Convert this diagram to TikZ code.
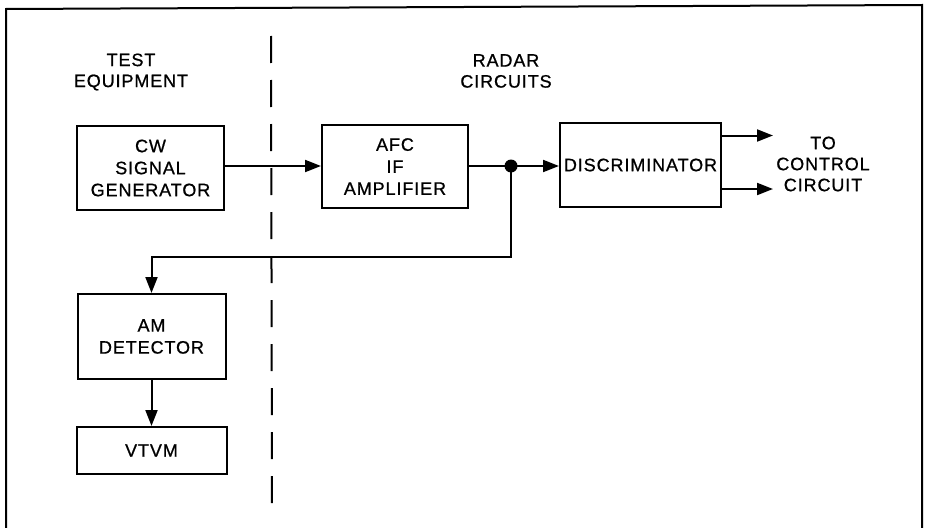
\documentclass[tikz,border=0pt]{standalone}
\usepackage{fontspec}
\setmainfont{Liberation Sans}[LetterSpace=5, FakeBold=0.8]
\usetikzlibrary{arrows.meta}
\tikzset{
  blk/.style={draw, line width=2pt, align=center, inner sep=0pt,
    font=\fontsize{18}{22}\selectfont},
  lbl/.style={align=center, font=\fontsize{18}{21}\selectfont},
  wire/.style={line width=2pt},
  arr/.style={wire, -{Triangle[length=16pt,width=12pt]}},
}
\begin{document}
\begin{tikzpicture}[x=1pt,y=-1pt]
\useasboundingbox (0,0) rectangle (928,527);
\fill[white] (0,0) rectangle (928,527);
% frame
\draw[line width=2pt] (6,540) -- (6,9) -- (922,5) -- (922,540);
% dashed divider
\draw[line width=2pt, dash pattern=on 27pt off 17pt] (271,36) -- (272,506);
% headings
\node[lbl] (te) at (131,72) {TEST\\EQUIPMENT};
\node[lbl] (rc) at (506,71) {RADAR\\CIRCUITS};
% boxes
\node[blk, minimum width=147pt, minimum height=84pt] (cw) at (150.5,168) {CW\\SIGNAL\\GENERATOR};
\node[blk, minimum width=146pt, minimum height=83pt] (afc) at (395,166.5) {AFC\\IF\\AMPLIFIER};
\node[blk, minimum width=161pt, minimum height=84pt] (disc) at (640.5,165) {DISCRIMINATOR};
\node[blk, minimum width=148pt, minimum height=85pt] (am) at (151.5,336.5) {AM\\DETECTOR};
\node[blk, minimum width=150pt, minimum height=47pt] (vt) at (151.5,450.5) {VTVM};
\node[lbl] (ctl) at (823,164) {TO\\CONTROL\\CIRCUIT};
% connectors
\draw[arr] (cw.east |- 0,166) -- (afc.west |- 0,166);
\coordinate (j) at (511,166);
\draw[wire] (afc.east |- j) -- (j);
\draw[arr] (j) -- (disc.west |- j);
\fill (j) circle (6.5pt);
\coordinate (c1) at (511,257);
\coordinate (c2) at (151.5,257);
\draw[arr] (j) -- (c1) -- (c2) -- (am.north);
\draw[arr] (am.south) -- (vt.north);
\coordinate (o1) at (773,135.5);
\coordinate (o2) at (773,189);
\draw[arr] (disc.east |- o1) -- (o1);
\draw[arr] (disc.east |- o2) -- (o2);
\end{tikzpicture}
\end{document}
